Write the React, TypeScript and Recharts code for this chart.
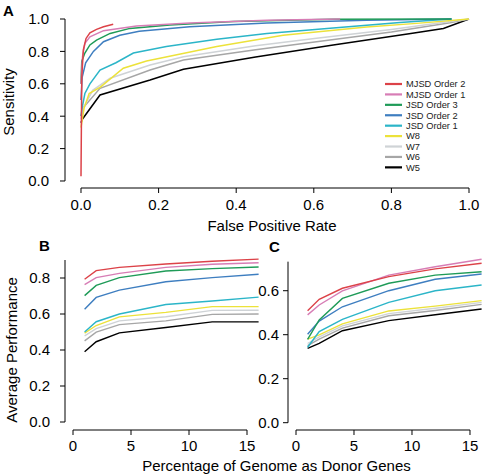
import React from 'react';
import { LineChart, Line, XAxis, YAxis, ReferenceLine, Legend } from 'recharts';

const FONT = '"Liberation Sans", Arial, Helvetica, sans-serif';

const seriesNames = ['MJSD Order 2', 'MJSD Order 1', 'JSD Order 3', 'JSD Order 2', 'JSD Order 1', 'W8', 'W7', 'W6', 'W5'];
const seriesKeys = ['mjsd2', 'mjsd1', 'jsd3', 'jsd2', 'jsd1', 'w8', 'w7', 'w6', 'w5'];
const seriesColors = ['#dc4248', '#d77db5', '#1f9b58', '#3e7ec0', '#2bb5c8', '#ece23a', '#cfd3d6', '#a6a6a6', '#000000'];

// Panel A: ROC curves, [false positive rate, sensitivity]
const rocMjsd2 = [[0, 0.03], [0.002, 0.64], [0.006, 0.81], [0.013, 0.88], [0.023, 0.915], [0.04, 0.936], [0.058, 0.952], [0.083, 0.967]];
const rocMjsd1 = [[0, 0.6], [0.004, 0.77], [0.01, 0.85], [0.023, 0.89], [0.058, 0.928], [0.143, 0.957], [0.281, 0.975], [0.479, 0.993], [0.668, 1.0]];
const rocJsd3 = [[0, 0.6], [0.002, 0.74], [0.01, 0.79], [0.023, 0.84], [0.04, 0.87], [0.075, 0.911], [0.126, 0.942], [0.229, 0.963], [0.393, 0.985], [0.65, 0.998], [0.955, 1.0]];
const rocJsd2 = [[0, 0.5], [0.003, 0.64], [0.012, 0.73], [0.032, 0.8], [0.058, 0.86], [0.1, 0.9], [0.15, 0.925], [0.28, 0.952], [0.479, 0.975], [0.736, 0.992], [0.955, 1.0]];
const rocJsd1 = [[0, 0.4], [0.002, 0.44], [0.01, 0.54], [0.023, 0.6], [0.049, 0.685], [0.09, 0.73], [0.135, 0.79], [0.22, 0.83], [0.35, 0.875], [0.479, 0.91], [0.65, 0.945], [0.822, 0.978], [0.955, 1.0]];
const rocW8 = [[0, 0.33], [0.002, 0.36], [0.008, 0.45], [0.021, 0.54], [0.05, 0.58], [0.109, 0.696], [0.169, 0.741], [0.272, 0.792], [0.35, 0.83], [0.521, 0.9], [0.736, 0.95], [0.865, 0.973], [1.0, 1.0]];
const rocW7 = [[0, 0.38], [0.006, 0.45], [0.03, 0.56], [0.075, 0.634], [0.178, 0.716], [0.264, 0.767], [0.45, 0.835], [0.607, 0.881], [0.8, 0.935], [0.951, 0.985], [1.0, 1.0]];
const rocW6 = [[0, 0.4], [0.005, 0.45], [0.049, 0.572], [0.178, 0.685], [0.264, 0.747], [0.45, 0.81], [0.607, 0.86], [0.8, 0.92], [0.951, 0.977], [1.0, 1.0]];
const rocW5 = [[0, 0.36], [0.003, 0.38], [0.049, 0.531], [0.178, 0.623], [0.264, 0.69], [0.45, 0.765], [0.65, 0.84], [0.85, 0.91], [0.934, 0.942], [1.0, 1.0]];
const rocSeries = [rocMjsd2, rocMjsd1, rocJsd3, rocJsd2, rocJsd1, rocW8, rocW7, rocW6, rocW5];

// Panels B and C: percentage of genome as donor genes
const donorPct = [1, 2, 4, 8, 12, 16];

const bMjsd2 = [0.793, 0.841, 0.859, 0.878, 0.893, 0.905];
const bMjsd1 = [0.763, 0.802, 0.826, 0.859, 0.876, 0.885];
const bJsd3 = [0.702, 0.759, 0.802, 0.839, 0.852, 0.861];
const bJsd2 = [0.626, 0.692, 0.733, 0.779, 0.802, 0.821];
const bJsd1 = [0.5, 0.557, 0.6, 0.653, 0.672, 0.694];
const bW8 = [0.494, 0.536, 0.584, 0.609, 0.641, 0.641];
const bW7 = [0.478, 0.519, 0.562, 0.585, 0.62, 0.621];
const bW6 = [0.451, 0.499, 0.541, 0.562, 0.598, 0.6];
const bW5 = [0.39, 0.446, 0.495, 0.525, 0.556, 0.556];
const bSeries = [bMjsd2, bMjsd1, bJsd3, bJsd2, bJsd1, bW8, bW7, bW6, bW5];

const cMjsd2 = [0.509, 0.561, 0.611, 0.664, 0.699, 0.725];
const cMjsd1 = [0.49, 0.535, 0.599, 0.671, 0.709, 0.743];
const cJsd3 = [0.379, 0.467, 0.565, 0.634, 0.671, 0.686];
const cJsd2 = [0.402, 0.462, 0.527, 0.6, 0.652, 0.676];
const cJsd1 = [0.343, 0.414, 0.47, 0.547, 0.6, 0.626];
const cW8 = [0.38, 0.399, 0.449, 0.508, 0.53, 0.555];
const cW7 = [0.36, 0.39, 0.44, 0.496, 0.52, 0.547];
const cW6 = [0.35, 0.38, 0.43, 0.486, 0.51, 0.538];
const cW5 = [0.338, 0.361, 0.418, 0.464, 0.491, 0.517];
const cSeries = [cMjsd2, cMjsd1, cJsd3, cJsd2, cJsd1, cW8, cW7, cW6, cW5];

const ticksA = [0, 0.2, 0.4, 0.6, 0.8, 1.0];
const ticksPerf = [0, 0.2, 0.4, 0.6, 0.8];
const ticksPerfC = [0, 0.2, 0.4, 0.6];
const ticksPct = [0, 5, 10, 15];

const rocData = rocSeries.map((pts) => pts.map(([f, s]) => ({ fpr: f, sens: s })));
const buildTable = (series: number[][]) =>
  donorPct.map((p, i) => {
    const row: Record<string, number> = { pct: p };
    seriesKeys.forEach((k, j) => {
      row[k] = series[j][i];
    });
    return row;
  });
const dataB = buildTable(bSeries);
const dataC = buildTable(cSeries);

const drawOrder = [8, 7, 6, 5, 4, 3, 2, 1, 0];

const tickStyle = { fontSize: 15, fill: '#000', fontFamily: FONT };
const fmt1 = (v: number) => v.toFixed(1);

// domains (chosen so that axes sit offset from the data region, R style)
const A_X = [-0.041237, 1.036082];
const A_Y = [-0.04321, 1.04321];
const B_X = [-0.6897, 16.293];
const B_Y = [-0.04444, 0.92778];
const C_X = [-0.6897, 16.121];
const C_Y = [-0.0332, 0.7623];

const LegendBox = () => (
  <svg width={95} height={96} style={{ display: 'block', overflow: 'visible' }}>
    {seriesNames.map((n, i) => (
      <g key={n}>
        <line x1={0} x2={17} y1={6 + i * 10.42} y2={6 + i * 10.42} stroke={seriesColors[i]} strokeWidth={2.2} />
        <text x={21} y={6 + i * 10.42} dy="0.35em" fontSize={9.3} fontFamily={FONT} fill="#222">
          {n}
        </text>
      </g>
    ))}
  </svg>
);

export default function App() {
  return (
    <div style={{ position: 'fixed', left: 0, top: 0, width: 483, height: 475, background: '#fff', overflow: 'hidden' }}>
      <div style={{ position: 'absolute', left: 0, top: 0 }}>
        <LineChart width={483} height={218} margin={{ top: 12, right: 0, bottom: 0, left: 0 }}>
          <XAxis
            type="number"
            dataKey="fpr"
            domain={A_X}
            allowDataOverflow
            ticks={ticksA}
            tickFormatter={fmt1}
            axisLine={false}
            stroke="#000"
            tickSize={5}
            tickMargin={6}
            height={30}
            tick={tickStyle}
            allowDuplicatedCategory={false}
          />
          <YAxis
            type="number"
            domain={A_Y}
            allowDataOverflow
            ticks={ticksA}
            tickFormatter={fmt1}
            axisLine={false}
            stroke="#000"
            tickSize={5}
            tickMargin={11}
            width={65}
            tick={tickStyle}
          />
          <ReferenceLine segment={[{ x: A_X[0], y: 0 }, { x: A_X[0], y: 1 }]} stroke="#000" ifOverflow="visible" />
          <ReferenceLine segment={[{ x: 0, y: A_Y[0] }, { x: 1, y: A_Y[0] }]} stroke="#000" ifOverflow="visible" />
          {drawOrder.map((i) => (
            <Line
              key={seriesKeys[i]}
              data={rocData[i]}
              dataKey="sens"
              name={seriesNames[i]}
              stroke={seriesColors[i]}
              strokeWidth={1.5}
              dot={false}
              isAnimationActive={false}
              type="linear"
            />
          ))}
          <Legend
            layout="vertical"
            align="center"
            verticalAlign="middle"
            content={() => <LegendBox />}
            wrapperStyle={{ left: 385, top: 78, width: 95, height: 96 }}
          />
        </LineChart>
      </div>

      <div style={{ position: 'absolute', left: 0, top: 240 }}>
        <LineChart width={262} height={220} data={dataB} margin={{ top: 15, right: 0, bottom: 0, left: 0 }}>
          <XAxis
            type="number"
            dataKey="pct"
            domain={B_X}
            allowDataOverflow
            ticks={ticksPct}
            axisLine={false}
            stroke="#000"
            tickSize={5}
            tickMargin={5}
            height={30}
            tick={tickStyle}
          />
          <YAxis
            type="number"
            domain={B_Y}
            allowDataOverflow
            ticks={ticksPerf}
            tickFormatter={fmt1}
            axisLine={false}
            stroke="#000"
            tickSize={5}
            tickMargin={10}
            width={65}
            tick={tickStyle}
          />
          <ReferenceLine segment={[{ x: B_X[0], y: 0 }, { x: B_X[0], y: 0.9 }]} stroke="#000" ifOverflow="visible" />
          <ReferenceLine segment={[{ x: 0, y: B_Y[0] }, { x: 15, y: B_Y[0] }]} stroke="#000" ifOverflow="visible" />
          {drawOrder.map((i) => (
            <Line
              key={seriesKeys[i]}
              dataKey={seriesKeys[i]}
              name={seriesNames[i]}
              stroke={seriesColors[i]}
              strokeWidth={1.4}
              dot={false}
              isAnimationActive={false}
              type="linear"
            />
          ))}
        </LineChart>
      </div>

      <div style={{ position: 'absolute', left: 255, top: 240 }}>
        <LineChart width={228} height={220} data={dataC} margin={{ top: 15, right: 0, bottom: 0, left: 0 }}>
          <XAxis
            type="number"
            dataKey="pct"
            domain={C_X}
            allowDataOverflow
            ticks={ticksPct}
            axisLine={false}
            stroke="#000"
            tickSize={5}
            tickMargin={5}
            height={30}
            tick={tickStyle}
          />
          <YAxis
            type="number"
            domain={C_Y}
            allowDataOverflow
            ticks={ticksPerfC}
            tickFormatter={fmt1}
            axisLine={false}
            stroke="#000"
            tickSize={5}
            tickMargin={4}
            width={33}
            tick={tickStyle}
          />
          <ReferenceLine segment={[{ x: C_X[0], y: 0 }, { x: C_X[0], y: 0.732 }]} stroke="#000" ifOverflow="visible" />
          <ReferenceLine segment={[{ x: 0, y: C_Y[0] }, { x: 15, y: C_Y[0] }]} stroke="#000" ifOverflow="visible" />
          {drawOrder.map((i) => (
            <Line
              key={seriesKeys[i]}
              dataKey={seriesKeys[i]}
              name={seriesNames[i]}
              stroke={seriesColors[i]}
              strokeWidth={1.4}
              dot={false}
              isAnimationActive={false}
              type="linear"
            />
          ))}
        </LineChart>
      </div>

      <svg width={483} height={475} style={{ position: 'absolute', left: 0, top: 0, pointerEvents: 'none' }}>
        <g fontFamily={FONT} fill="#000">
          <text x={3} y={16} fontSize={15} fontWeight="bold">A</text>
          <text x={39} y={250.5} fontSize={15} fontWeight="bold">B</text>
          <text x={269} y={252} fontSize={15} fontWeight="bold">C</text>
          <text x={14} y={102} fontSize={15} textAnchor="middle" transform="rotate(-90 14 102)">Sensitivity</text>
          <text x={272} y={231} fontSize={15} textAnchor="middle">False Positive Rate</text>
          <text x={17} y={350} fontSize={15} textAnchor="middle" transform="rotate(-90 17 350)">Average Performance</text>
          <text x={276.5} y={470.5} fontSize={15} textAnchor="middle">Percentage of Genome as Donor Genes</text>
        </g>
      </svg>
    </div>
  );
}
